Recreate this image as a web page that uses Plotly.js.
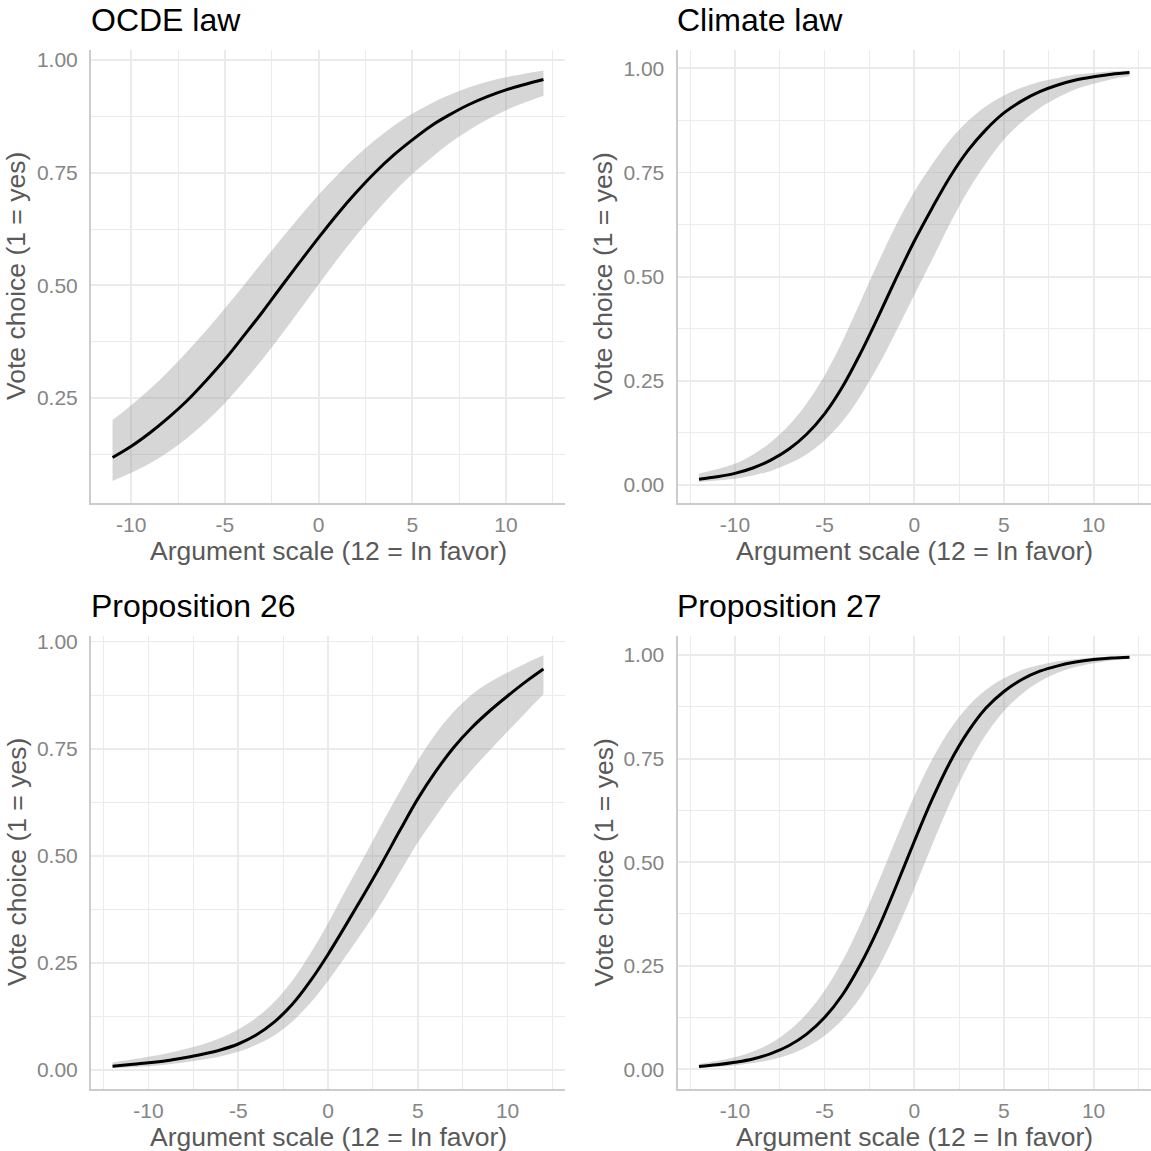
<!DOCTYPE html>
<html><head><meta charset="utf-8">
<script src="https://cdn.plot.ly/plotly-3.0.1.min.js"></script>
<style>html,body{margin:0;padding:0;background:#fff;}#chart{width:1151px;height:1151px;}</style>
</head><body><div id="chart"></div>
<script>
const panelTitles = ["OCDE law", "Climate law", "Proposition 26", "Proposition 27"];
const xAxisTitle = "Argument scale (12 = In favor)";
const yAxisTitle = "Vote choice (1 = yes)";
const xTickVals = [-10, -5, 0, 5, 10];
const xTickText = ["-10", "-5", "0", "5", "10"];
const yTickVals = [0, 0.25, 0.5, 0.75, 1];
const yTickText = ["0.00", "0.25", "0.50", "0.75", "1.00"];

const xOCDE = [-11,-10,-9,-8,-7,-6,-5,-4,-3,-2,-1,0,1,2,3,4,5,6,7,8,9,10,11,12];
const fitOCDE = [0.118,0.143,0.173,0.207,0.245,0.289,0.336,0.388,0.441,0.497,0.552,0.606,0.658,0.706,0.750,0.789,0.823,0.854,0.879,0.901,0.919,0.934,0.946,0.957];
const lowOCDE = [0.066,0.084,0.105,0.131,0.162,0.198,0.239,0.286,0.336,0.390,0.446,0.502,0.558,0.611,0.660,0.706,0.747,0.783,0.816,0.844,0.868,0.889,0.906,0.921];
const highOCDE = [0.201,0.234,0.270,0.310,0.354,0.400,0.449,0.500,0.552,0.603,0.653,0.701,0.745,0.786,0.822,0.854,0.881,0.904,0.923,0.939,0.952,0.962,0.970,0.977];

const xFull = [-12,-11,-10,-9,-8,-7,-6,-5,-4,-3,-2,-1,0,1,2,3,4,5,6,7,8,9,10,11,12];
const fitClimate = [0.014,0.020,0.028,0.041,0.060,0.086,0.122,0.171,0.236,0.316,0.405,0.497,0.585,0.665,0.740,0.803,0.853,0.893,0.922,0.944,0.960,0.972,0.980,0.986,0.990];
const lowClimate = [0.008,0.011,0.015,0.023,0.034,0.051,0.074,0.107,0.153,0.214,0.287,0.370,0.456,0.541,0.628,0.706,0.772,0.829,0.871,0.905,0.930,0.950,0.963,0.974,0.981];
const highClimate = [0.028,0.038,0.051,0.073,0.103,0.143,0.196,0.263,0.346,0.440,0.535,0.625,0.704,0.770,0.828,0.874,0.909,0.935,0.954,0.968,0.977,0.985,0.989,0.993,0.995];

const fitProp26 = [0.009,0.013,0.017,0.022,0.029,0.037,0.047,0.061,0.082,0.112,0.153,0.207,0.270,0.339,0.410,0.483,0.559,0.633,0.697,0.753,0.799,0.838,0.873,0.906,0.936];
const lowProp26 = [0.005,0.007,0.009,0.013,0.018,0.024,0.032,0.043,0.059,0.081,0.113,0.156,0.208,0.267,0.327,0.391,0.461,0.531,0.592,0.650,0.700,0.746,0.790,0.834,0.877];
const highProp26 = [0.018,0.024,0.031,0.039,0.049,0.060,0.075,0.095,0.122,0.159,0.208,0.271,0.343,0.421,0.497,0.575,0.650,0.722,0.785,0.836,0.876,0.905,0.928,0.949,0.968];

const fitProp27 = [0.007,0.011,0.017,0.025,0.038,0.057,0.085,0.125,0.180,0.253,0.341,0.443,0.550,0.652,0.742,0.815,0.872,0.912,0.941,0.961,0.974,0.983,0.989,0.993,0.995];
const lowProp27 = [0.004,0.006,0.009,0.015,0.023,0.035,0.054,0.081,0.120,0.174,0.246,0.334,0.436,0.542,0.644,0.734,0.808,0.865,0.906,0.936,0.957,0.971,0.980,0.987,0.991];
const highProp27 = [0.013,0.020,0.029,0.043,0.063,0.093,0.134,0.190,0.262,0.351,0.452,0.558,0.659,0.748,0.821,0.876,0.916,0.944,0.964,0.976,0.985,0.990,0.994,0.996,0.997];

const W = 1151, H = 1151;
const panels = [
  {x: xOCDE, fit: fitOCDE, lo: lowOCDE, hi: highOCDE, left: 91, right: 565, top: 50, bottom: 503, xr: [-12.15, 13.15], yr: [0.017, 1.0225]},
  {x: xFull, fit: fitClimate, lo: lowClimate, hi: highClimate, left: 677.5, right: 1151, top: 50, bottom: 503, xr: [-13.2, 13.2], yr: [-0.043, 1.044]},
  {x: xFull, fit: fitProp26, lo: lowProp26, hi: highProp26, left: 91, right: 565, top: 636, bottom: 1089, xr: [-13.2, 13.2], yr: [-0.044, 1.013]},
  {x: xFull, fit: fitProp27, lo: lowProp27, hi: highProp27, left: 677.5, right: 1151, top: 636, bottom: 1089, xr: [-13.2, 13.2], yr: [-0.0475, 1.046]}
];

const FONT = "Liberation Sans, Arial, Helvetica, sans-serif";
const data = [];
const layout = {
  width: W, height: H, margin: {l: 0, r: 0, t: 0, b: 0},
  paper_bgcolor: "#ffffff", plot_bgcolor: "#ffffff",
  showlegend: false, font: {family: FONT},
  annotations: []
};

panels.forEach((p, i) => {
  const n = i === 0 ? "" : String(i + 1);
  const xa = "x" + n, ya = "y" + n;
  data.push({
    type: "scatter", mode: "lines", xaxis: xa, yaxis: ya,
    x: p.x, y: p.lo, line: {width: 0, color: "rgba(0,0,0,0)", shape: "spline", smoothing: 1},
    hoverinfo: "skip"
  });
  data.push({
    type: "scatter", mode: "lines", xaxis: xa, yaxis: ya,
    x: p.x, y: p.hi, fill: "tonexty", fillcolor: "rgba(153,153,153,0.40)",
    line: {width: 0, color: "rgba(0,0,0,0)", shape: "spline", smoothing: 1}, hoverinfo: "skip"
  });
  data.push({
    type: "scatter", mode: "lines", xaxis: xa, yaxis: ya,
    x: p.x, y: p.fit, line: {color: "#000000", width: 3, shape: "spline", smoothing: 1}
  });
  const common = {
    showgrid: true, gridcolor: "#EBEBEB", gridwidth: 1.8, zeroline: false,
    showline: true, linecolor: "#CCCCCC", linewidth: 2, ticks: "",
    tickfont: {family: FONT, size: 21, color: "#858585"}
  };
  layout["xaxis" + n] = Object.assign({}, common, {
    domain: [p.left / W, p.right / W], range: p.xr, anchor: ya,
    tickmode: "array", tickvals: xTickVals, ticktext: xTickText, ticklabelstandoff: 2,
    minor: {tickvals: [-12.5, -7.5, -2.5, 2.5, 7.5, 12.5], showgrid: true, gridcolor: "#EBEBEB", gridwidth: 1, ticks: ""}
  });
  layout["yaxis" + n] = Object.assign({}, common, {
    domain: [1 - p.bottom / H, 1 - p.top / H], range: p.yr, anchor: xa,
    tickmode: "array", tickvals: yTickVals, ticktext: yTickText, ticklabelstandoff: 7,
    minor: {tickvals: [0.125, 0.375, 0.625, 0.875], showgrid: true, gridcolor: "#EBEBEB", gridwidth: 1, ticks: ""}
  });
  layout.annotations.push({
    xref: "paper", yref: "paper", x: (p.left - 2.5) / W, y: 1 - (p.top - 30) / H,
    xanchor: "left", yanchor: "middle", showarrow: false,
    text: panelTitles[i], font: {family: FONT, size: 32, color: "#000000"}
  });
  layout.annotations.push({
    xref: "paper", yref: "paper", x: (p.left + p.right) / 2 / W, y: 1 - (p.bottom + 47.5) / H,
    xanchor: "center", yanchor: "middle", showarrow: false,
    text: xAxisTitle, font: {family: FONT, size: 26.5, color: "#595959"}
  });
  layout.annotations.push({
    xref: "paper", yref: "paper", x: (p.left - 74.5) / W, y: 1 - (p.top + p.bottom) / 2 / H,
    xanchor: "center", yanchor: "middle", showarrow: false, textangle: -90,
    text: yAxisTitle, font: {family: FONT, size: 26.5, color: "#595959"}
  });
});

Plotly.newPlot("chart", data, layout, {staticPlot: true, displayModeBar: false});
</script>
</body></html>
